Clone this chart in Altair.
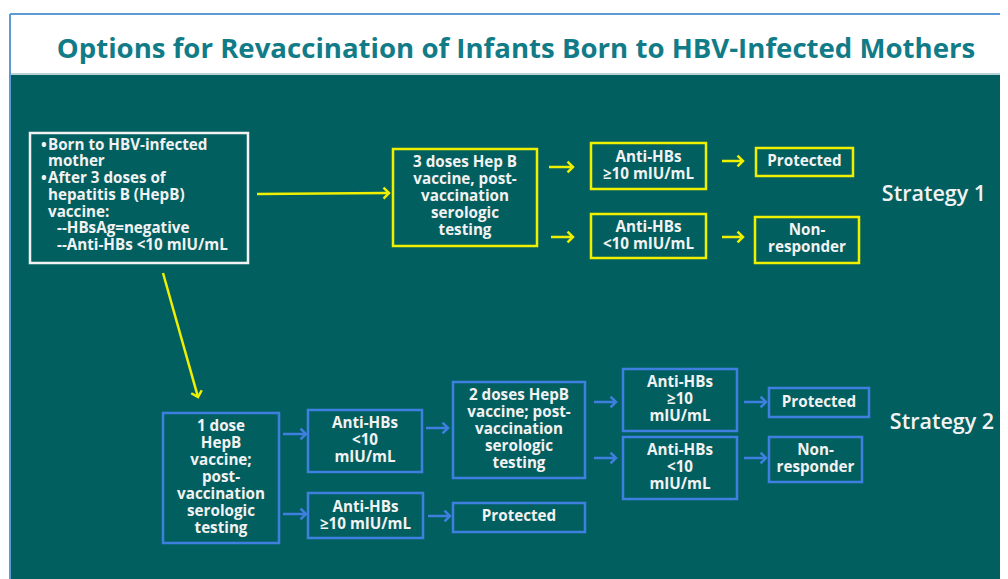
import math
import altair as alt
import pandas as pd

# ---------------- data ----------------
title_text = "Options for Revaccination of Infants Born to HBV-Infected Mothers"

# flowchart boxes (layout units = page pixels)
box_names  = ["A", "B", "C1", "C2", "D1", "D2", "E", "F1", "F2", "G", "H", "I1", "I2", "J1", "J2"]
box_group  = ["start", "s1", "s1", "s1", "s1", "s1", "s2", "s2", "s2", "s2", "s2", "s2", "s2", "s2", "s2"]
box_left   = [30, 393, 591, 591, 756, 755, 163, 308, 308, 453, 453, 623, 623, 769, 769]
box_right  = [248, 537, 706, 706, 853, 859, 279, 422, 423, 585, 585, 737, 737, 869, 862]
box_top    = [133, 149, 143, 214, 148, 217, 413, 410, 493, 382, 503, 369, 437, 388, 437]
box_bottom = [263, 246, 189, 258, 176, 263, 543, 472, 538, 478, 532, 431, 499, 417, 482]

# centred box labels
label_box = ["B", "C1", "C2", "D1", "D2", "E", "F1", "F2", "G", "H", "I1", "I2", "J1", "J2"]
label_text = [
    "3 doses Hep B\nvaccine, post-\nvaccination\nserologic\ntesting",
    "Anti-HBs\n≥10 mIU/mL",
    "Anti-HBs\n<10 mIU/mL",
    "Protected",
    "Non-\nresponder",
    "1 dose\nHepB\nvaccine;\npost-\nvaccination\nserologic\ntesting",
    "Anti-HBs\n<10\nmIU/mL",
    "Anti-HBs\n≥10 mIU/mL",
    "2 doses HepB\nvaccine; post-\nvaccination\nserologic\ntesting",
    "Protected",
    "Anti-HBs\n≥10\nmIU/mL",
    "Anti-HBs\n<10\nmIU/mL",
    "Protected",
    "Non-\nresponder",
]
label_cy = [196, 165, 235, 161, 238, 477, 440, 515, 429, 516, 399, 467, 402, 458]

# starting box (left aligned lines)
start_text = ["•", "Born to HBV-infected", "mother", "•", "After 3 doses of",
              "hepatitis B (HepB)", "vaccine:", "--HBsAg=negative", "--Anti-HBs <10 mIU/mL"]
start_x = [41, 48, 48, 41, 48, 48, 48, 57, 57]
start_y = [145, 145, 161, 178, 178, 195, 212, 228, 245]

# strategy labels
strategy_text = ["Strategy 1", "Strategy 2"]
strategy_x = [934, 942]
strategy_y = [195, 423]

# arrows: tail (x0, y0) -> tip (x1, y1)
arrow_group = ["s1", "s1", "s1", "s1", "s1", "s1",
               "s2", "s2", "s2", "s2", "s2", "s2", "s2", "s2"]
arrow_x0 = [257, 549, 551, 722, 722, 163, 283, 283, 426, 428, 594, 594, 744, 744]
arrow_y0 = [194, 167, 237, 161, 237, 273, 434, 514, 428, 516, 402, 458, 402, 458]
arrow_x1 = [389, 573, 573, 743, 743, 198, 306, 306, 448, 450, 616, 616, 766, 766]
arrow_y1 = [193, 167, 237, 161, 237, 397, 434, 514, 428, 516, 402, 458, 402, 458]

# ---------------- styling ----------------
TEAL = "#025f60"
YELLOW = "#eef000"
BLUE = "#3f7fe0"
WHITE = "#f2f2f2"
FONT = "Open Sans"
BODY_SIZE = 15.2
LINE_H = 17

W, H = 992, 571
X_MAX = 8 + W
Y_MAX = 8 + H
xs = alt.Scale(domain=[8, X_MAX], range=[0, W], nice=False, zero=False)
ys = alt.Scale(domain=[8, Y_MAX], range=[0, H], nice=False, zero=False)
col = alt.Scale(domain=["start", "s1", "s2"], range=[WHITE, YELLOW, BLUE])


def X(f):
    return alt.X(f, type="quantitative", scale=xs, axis=None)


def Y(f):
    return alt.Y(f, type="quantitative", scale=ys, axis=None)


# background pieces
bg = pd.DataFrame({"x0": [11], "x1": [X_MAX], "y0": [75], "y1": [Y_MAX]})
bg_layer = alt.Chart(bg).mark_rect(color=TEAL).encode(
    x=X("x0"), x2="x1", y=Y("y0"), y2="y1")

frame = pd.DataFrame({"x0": [10, 10, 11], "x1": [X_MAX, 10, X_MAX],
                      "y0": [14, 14, 74], "y1": [14, Y_MAX, 74],
                      "c": ["#5b9bd5", "#5b9bd5", "#b9d3d5"]})
frame_layer = alt.Chart(frame).mark_rule(strokeWidth=2).encode(
    x=X("x0"), x2="x1", y=Y("y0"), y2="y1",
    color=alt.Color("c:N", scale=None))

title_df = pd.DataFrame({"t": [title_text], "x": [516], "y": [58]})
title_layer = alt.Chart(title_df).mark_text(
    font=FONT, fontSize=27.6, fontWeight="bold", color="#117c87",
    baseline="alphabetic", align="center").encode(
    x=X("x"), y=Y("y"), text="t:N")

boxes = pd.DataFrame({"name": box_names, "g": box_group, "x0": box_left,
                      "x1": box_right, "y0": box_top, "y1": box_bottom})
box_layer = alt.Chart(boxes).mark_rect(fillOpacity=0, strokeWidth=2.5).encode(
    x=X("x0"), x2="x1", y=Y("y0"), y2="y1",
    stroke=alt.Stroke("g:N", scale=col, legend=None))

lab = pd.DataFrame({"name": label_box, "t": label_text, "cy": label_cy})
lab = lab.merge(boxes[["name", "x0", "x1"]], on="name")
lab["cx"] = (lab["x0"] + lab["x1"]) / 2
# first line position so that the block is centred on cy
lab["fy"] = lab["cy"] - (lab["t"].str.count("\n")) * LINE_H / 2
label_layer = alt.Chart(lab).mark_text(
    font=FONT, fontSize=BODY_SIZE, fontWeight="bold", color=WHITE, lineBreak="\n",
    lineHeight=LINE_H, align="center", baseline="middle").encode(
    x=X("cx"), y=Y("fy"), text="t:N")

start_df = pd.DataFrame({"t": start_text, "x": start_x, "y": start_y})
start_layer = alt.Chart(start_df).mark_text(
    font=FONT, fontSize=BODY_SIZE, fontWeight="bold", color=WHITE,
    align="left", baseline="middle").encode(
    x=X("x"), y=Y("y"), text="t:N")

strat_df = pd.DataFrame({"t": strategy_text, "x": strategy_x, "y": strategy_y})
strat_layer = alt.Chart(strat_df).mark_text(
    font=FONT, fontSize=21.5, fontWeight=600, color=WHITE,
    align="center", baseline="middle").encode(
    x=X("x"), y=Y("y"), text="t:N")

arr = pd.DataFrame({"g": arrow_group, "x0": arrow_x0, "y0": arrow_y0,
                    "x1": arrow_x1, "y1": arrow_y1})
ang = [math.degrees(math.atan2(b1 - b0, a1 - a0)) % 360
       for a0, b0, a1, b1 in zip(arrow_x0, arrow_y0, arrow_x1, arrow_y1)]
arr["ang"] = ang
# shaft ends just short of the tip
arr["sx1"] = arr["x1"] - pd.Series([1.5 * math.cos(math.radians(a)) for a in ang])
arr["sy1"] = arr["y1"] - pd.Series([1.5 * math.sin(math.radians(a)) for a in ang])

shaft_layer = alt.Chart(arr).mark_rule(strokeWidth=2.5).encode(
    x=X("x0"), x2="sx1", y=Y("y0"), y2="sy1",
    color=alt.Color("g:N", scale=col, legend=None))

head_layer = alt.Chart(arr).mark_point(
    shape="M-1,-1L0,0L-1,1", filled=False, strokeWidth=2.5, size=120,
    opacity=1, strokeJoin="miter").encode(
    x=X("x1"), y=Y("y1"), angle=alt.Angle("ang:Q", scale=None),
    color=alt.Color("g:N", scale=col, legend=None))

chart = alt.layer(
    bg_layer, frame_layer, title_layer, box_layer, shaft_layer, head_layer,
    label_layer, start_layer, strat_layer
).properties(
    width=W, height=H, padding=0, background="white",
    autosize=alt.AutoSizeParams(type="none")
).configure_view(stroke=None)

chart.save("out.html", embed_options={"renderer": "svg", "actions": False})
